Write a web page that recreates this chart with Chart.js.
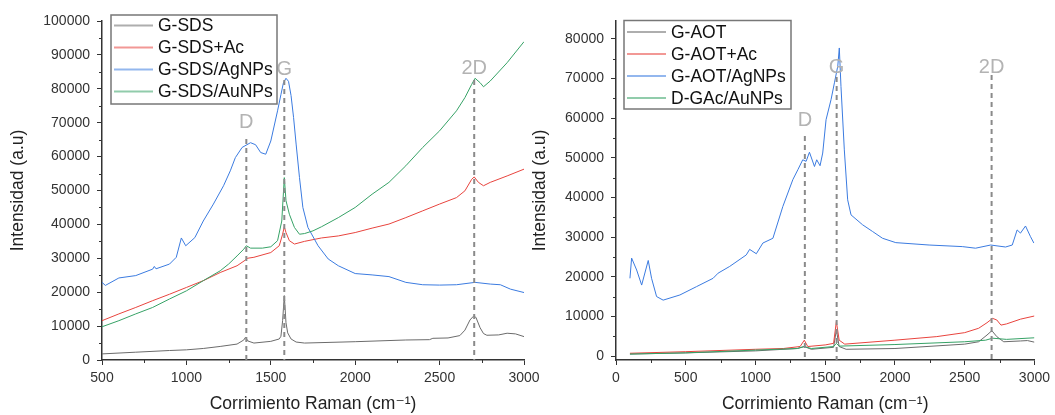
<!DOCTYPE html>
<html>
<head>
<meta charset="utf-8">
<script src="https://cdn.jsdelivr.net/npm/chart.js@4.4.1/dist/chart.umd.min.js"></script>
<style>
  body { margin: 0; background: #fff; }
  #wrap { position: relative; width: 1055px; height: 415px; overflow: hidden; }
  #sdsChart { position: absolute; left: 0; top: 0; }
  #aotChart { position: absolute; left: 530px; top: 0; }
</style>
</head>
<body>
<div id="wrap">
  <canvas id="sdsChart" width="560" height="415"></canvas>
  <canvas id="aotChart" width="525" height="415"></canvas>
</div>
<script>
// ---- espectros Raman con SDS (panel izquierdo) ----
const sdsNames = ["G-SDS", "G-SDS+Ac", "G-SDS/AgNPs", "G-SDS/AuNPs"];

const sdsX = [500, 700, 900, 1000, 1100, 1200, 1300, 1340, 1350, 1365, 1400, 1500, 1550, 1560, 1570, 1580, 1590, 1600, 1620, 1650, 1700, 2000, 2300, 2440, 2460, 2550, 2620, 2650, 2680, 2700, 2715, 2740, 2760, 2780, 2850, 2900, 2950, 3000];
const sdsY = [1800, 2300, 2800, 3000, 3400, 4000, 4700, 5900, 6700, 5600, 5000, 5500, 6200, 7000, 11600, 19000, 11000, 8000, 6200, 5300, 5000, 5400, 5900, 6000, 6400, 6500, 7200, 8800, 11800, 12900, 12600, 9500, 7800, 7300, 7400, 7900, 7700, 6900];

const sdsAcX = [500, 600, 700, 800, 900, 1000, 1100, 1200, 1300, 1350, 1360, 1400, 1500, 1550, 1570, 1580, 1590, 1610, 1640, 1700, 1800, 1900, 2000, 2100, 2200, 2300, 2400, 2500, 2600, 2650, 2690, 2705, 2730, 2760, 2800, 2900, 3000];
const sdsAcY = [11600, 13600, 15500, 17500, 19400, 21400, 23400, 25800, 27800, 29500, 30000, 30300, 31700, 33700, 37100, 39300, 37600, 35200, 34200, 35000, 36000, 36600, 37600, 38900, 40100, 42000, 44000, 46000, 47900, 49900, 53300, 54000, 52400, 51400, 52400, 54300, 56300];

const sdsAgX = [500, 520, 600, 700, 800, 810, 820, 900, 940, 970, 996, 1050, 1100, 1160, 1220, 1260, 1290, 1330, 1380, 1410, 1440, 1470, 1500, 1540, 1560, 1575, 1590, 1605, 1620, 1635, 1650, 1670, 1690, 1720, 1780, 1840, 1900, 2000, 2100, 2200, 2300, 2400, 2500, 2600, 2710, 2800, 2860, 2920, 3000];
const sdsAgY = [22900, 22000, 24200, 24900, 26800, 27600, 26900, 28300, 30300, 36000, 33700, 36100, 41000, 46000, 51400, 55800, 59700, 62700, 64100, 63500, 61200, 60700, 64600, 73500, 78300, 81800, 83100, 82200, 78000, 71500, 63700, 53800, 45000, 39100, 33700, 29800, 27800, 25500, 25100, 24600, 22900, 22200, 22100, 22200, 22900, 22400, 22200, 20900, 19900];

const sdsAuX = [500, 600, 700, 800, 900, 1000, 1100, 1200, 1250, 1300, 1340, 1355, 1380, 1450, 1500, 1540, 1565, 1580, 1590, 1610, 1640, 1670, 1700, 1750, 1800, 1900, 2000, 2100, 2200, 2300, 2400, 2500, 2600, 2650, 2690, 2710, 2740, 2760, 2800, 2900, 3000];
const sdsAuY = [9800, 11600, 13600, 15500, 18000, 20400, 23400, 26300, 28300, 30700, 32700, 33700, 33000, 33000, 33400, 35200, 41000, 53800, 47000, 43000, 39100, 37100, 37300, 38100, 39300, 42000, 45000, 48900, 52400, 57300, 62700, 67600, 73500, 77400, 81300, 83100, 81800, 80600, 82300, 87700, 93900];

const sdsXTicks = [500, 1000, 1500, 2000, 2500, 3000];
const sdsYTicks = [0, 10000, 20000, 30000, 40000, 50000, 60000, 70000, 80000, 90000, 100000];

// ---- espectros Raman con AOT (panel derecho) ----
const aotNames = ["G-AOT", "G-AOT+Ac", "G-AOT/AgNPs", "D-GAc/AuNPs"];

const aotX = [100, 500, 1000, 1300, 1350, 1400, 1560, 1580, 1600, 1650, 2000, 2500, 2600, 2660, 2695, 2730, 2780, 2900, 2950, 3000];
const aotY = [500, 800, 1300, 1900, 2400, 1700, 2200, 6600, 2400, 1700, 1900, 3000, 3600, 5300, 6400, 4900, 3600, 3800, 3900, 3500];

const aotAcX = [100, 500, 1000, 1200, 1320, 1350, 1375, 1500, 1560, 1580, 1600, 1640, 2000, 2300, 2500, 2600, 2660, 2700, 2730, 2760, 2800, 2900, 3000];
const aotAcY = [700, 1100, 1700, 1900, 2400, 4000, 2400, 2800, 3200, 8700, 4000, 3000, 4000, 4900, 5900, 7000, 8400, 9500, 9100, 7800, 8100, 9300, 10100];

const aotAgX = [100, 112, 148, 184, 231, 255, 291, 338, 458, 577, 696, 732, 815, 934, 958, 1006, 1053, 1125, 1196, 1268, 1304, 1339, 1363, 1387, 1423, 1439, 1463, 1482, 1506, 1542, 1566, 1590, 1601, 1613, 1637, 1661, 1685, 1768, 1840, 1911, 2006, 2245, 2483, 2578, 2686, 2793, 2841, 2876, 2900, 2936, 2972, 2996];
const aotAgY = [19600, 24700, 21700, 17900, 24100, 19600, 15000, 14100, 15400, 17500, 19600, 20900, 22600, 25500, 26900, 25800, 28500, 29700, 37700, 44500, 47000, 49500, 49100, 51400, 47800, 49500, 48000, 51200, 59600, 64700, 68900, 73100, 77700, 68000, 52000, 39400, 35600, 33100, 31400, 29700, 28600, 28000, 27600, 27200, 28000, 27500, 28000, 31800, 31000, 32800, 30100, 28500];

const aotAuX = [100, 500, 1000, 1300, 1350, 1400, 1560, 1580, 1600, 2000, 2500, 2650, 2700, 2800, 3000];
const aotAuY = [500, 800, 1500, 1900, 2400, 1900, 2400, 3200, 2500, 2900, 3600, 4000, 4500, 4200, 4600];

const aotXTicks = [0, 500, 1000, 1500, 2000, 2500, 3000];
const aotYTicks = [0, 10000, 20000, 30000, 40000, 50000, 60000, 70000, 80000];

// bandas D, G, 2D: posicion, altura de la etiqueta y donde empieza la linea
const bandNames = ["D", "G", "2D"];
const sdsBands = [1355, 1580, 2705];
const sdsBandLabelY = [70200, 85700, 85900];
const sdsBandLineTop = [65200, 82600, 82600];
const aotBands = [1354, 1582, 2693];
const aotBandLabelY = [59300, 72900, 72900];
const aotBandLineTop = [55500, 70400, 70900];

const colors = ["#6b6b6b", "#e8443e", "#3b7be0", "#36a266"];
const FONT = '"Liberation Sans", Arial, "DejaVu Sans", sans-serif';

function pts(xs, ys) {
  return xs.map((x, i) => ({ x: x, y: ys[i] }));
}

// marcas menores en los ejes
const minorTicks = {
  id: "minorTicks",
  afterDraw(chart, args, opts) {
    const ctx = chart.ctx;
    const xs = chart.scales.x, ys = chart.scales.y;
    const area = chart.chartArea;
    ctx.save();
    ctx.strokeStyle = "#333";
    ctx.lineWidth = 1;
    ctx.beginPath();
    for (let v = Math.ceil(xs.min / opts.x) * opts.x; v <= xs.max; v += opts.x) {
      if (v % (opts.x * 2) === 0) continue;
      const p = Math.round(xs.getPixelForValue(v)) + 0.5;
      ctx.moveTo(p, area.bottom);
      ctx.lineTo(p, area.bottom + 3);
    }
    for (let v = Math.ceil(ys.min / opts.y) * opts.y; v <= ys.max; v += opts.y) {
      if (v % (opts.y * 2) === 0) continue;
      const p = Math.round(ys.getPixelForValue(v)) + 0.5;
      ctx.moveTo(area.left, p);
      ctx.lineTo(area.left - 3, p);
    }
    ctx.stroke();
    ctx.restore();
  }
};

// lineas discontinuas de las bandas
const bandMarks = {
  id: "bandMarks",
  afterDatasetsDraw(chart, args, opts) {
    const ctx = chart.ctx;
    const xs = chart.scales.x, ys = chart.scales.y;
    ctx.save();
    opts.names.forEach((name, i) => {
      const px = xs.getPixelForValue(opts.at[i]);
      ctx.setLineDash([5, 4]);
      ctx.strokeStyle = "#8a8a8a";
      ctx.lineWidth = 2;
      ctx.beginPath();
      ctx.moveTo(px, ys.getPixelForValue(opts.lineTop[i]));
      ctx.lineTo(px, chart.chartArea.bottom);
      ctx.stroke();
      ctx.setLineDash([]);
      ctx.fillStyle = "#b3b3b3";
      ctx.font = "20px " + FONT;
      ctx.textAlign = "center";
      ctx.textBaseline = "middle";
      ctx.fillText(name, px, ys.getPixelForValue(opts.labelY[i]));
    });
    ctx.restore();
  }
};

// leyenda con recuadro
const boxLegend = {
  id: "boxLegend",
  afterDraw(chart, args, opts) {
    const ctx = chart.ctx;
    const b = opts.box;
    ctx.save();
    ctx.fillStyle = "#fff";
    ctx.fillRect(b.left, b.top, b.width, b.height);
    ctx.strokeStyle = "#777";
    ctx.lineWidth = 1.5;
    ctx.strokeRect(b.left, b.top, b.width, b.height);
    ctx.font = "17.5px " + FONT;
    ctx.textBaseline = "middle";
    ctx.textAlign = "left";
    chart.data.datasets.forEach((ds, i) => {
      const yy = b.top + opts.first + i * opts.step;
      ctx.globalAlpha = 0.55;
      ctx.strokeStyle = ds.borderColor;
      ctx.lineWidth = 2;
      ctx.beginPath();
      ctx.moveTo(b.left + 3, yy);
      ctx.lineTo(b.left + 42, yy);
      ctx.stroke();
      ctx.globalAlpha = 1;
      ctx.fillStyle = "#111";
      ctx.fillText(ds.label, b.left + 47, yy + 1);
    });
    ctx.restore();
  }
};

function fixedTicks(values) {
  return (s) => { s.ticks = values.map((v) => ({ value: v })); };
}

function makeChart(id, names, series, xr, yr, xTicks, yTicks, bands, legendBox, yAxisWidth, pad, titlePad) {
  return new Chart(document.getElementById(id), {
    type: "line",
    data: {
      datasets: series.map((s, i) => ({
        label: names[i],
        data: s,
        borderColor: colors[i],
        borderWidth: 1,
        pointRadius: 0,
        tension: 0,
        fill: false,
        order: 4 - i
      }))
    },
    options: {
      responsive: false,
      animation: false,
      layout: { autoPadding: false, padding: pad },
      plugins: {
        legend: { display: false },
        tooltip: { enabled: false },
        minorTicks: { x: 250, y: 5000 },
        bandMarks: bands,
        boxLegend: legendBox
      },
      scales: {
        x: {
          type: "linear",
          min: xr[0], max: xr[1],
          afterBuildTicks: fixedTicks(xTicks),
          afterFit: (s) => { s.height = 55; },
          border: { display: true, color: "#333", width: 1.5 },
          grid: { drawOnChartArea: false, drawTicks: true, tickLength: 5, color: "#333" },
          ticks: { padding: 5, color: "#333", font: { family: FONT, size: 14 }, maxRotation: 0, callback: (v) => String(v) },
          title: { display: true, text: "Corrimiento Raman (cm\u207B\u00B9)", color: "#222", font: { family: FONT, size: 17.5 }, padding: { top: 0, bottom: 0 } }
        },
        y: {
          min: yr[0], max: yr[1],
          afterBuildTicks: fixedTicks(yTicks),
          afterFit: (s) => { s.width = yAxisWidth; },
          border: { display: true, color: "#333", width: 1.5 },
          grid: { drawOnChartArea: false, drawTicks: true, tickLength: 5, color: "#333" },
          ticks: { padding: 7, color: "#333", font: { family: FONT, size: 14 }, callback: (v) => String(v) },
          title: { display: true, text: "Intensidad (a.u)", color: "#222", font: { family: FONT, size: 17.5 }, padding: { top: titlePad, bottom: 0 } }
        }
      }
    },
    plugins: [minorTicks, bandMarks, boxLegend]
  });
}

makeChart("sdsChart", sdsNames,
  [pts(sdsX, sdsY), pts(sdsAcX, sdsAcY), pts(sdsAgX, sdsAgY), pts(sdsAuX, sdsAuY)],
  [500, 3000], [0, 100000], sdsXTicks, sdsYTicks,
  { names: bandNames, at: sdsBands, labelY: sdsBandLabelY, lineTop: sdsBandLineTop },
  { box: { left: 111, top: 15, width: 166, height: 89 }, first: 10.5, step: 22 },
  102, { left: 0, top: 21, right: 36, bottom: 0 }, 7.5);

makeChart("aotChart", aotNames,
  [pts(aotX, aotY), pts(aotAcX, aotAcY), pts(aotAgX, aotAgY), pts(aotAuX, aotAuY)],
  [0, 3000], [-1000, 84500], aotXTicks, aotYTicks,
  { names: bandNames, at: aotBands, labelY: aotBandLabelY, lineTop: aotBandLineTop },
  { box: { left: 94, top: 20.5, width: 167, height: 88.5 }, first: 11.5, step: 22 },
  86, { left: 0, top: 21, right: 17, bottom: 0 }, 0);
</script>
</body>
</html>
